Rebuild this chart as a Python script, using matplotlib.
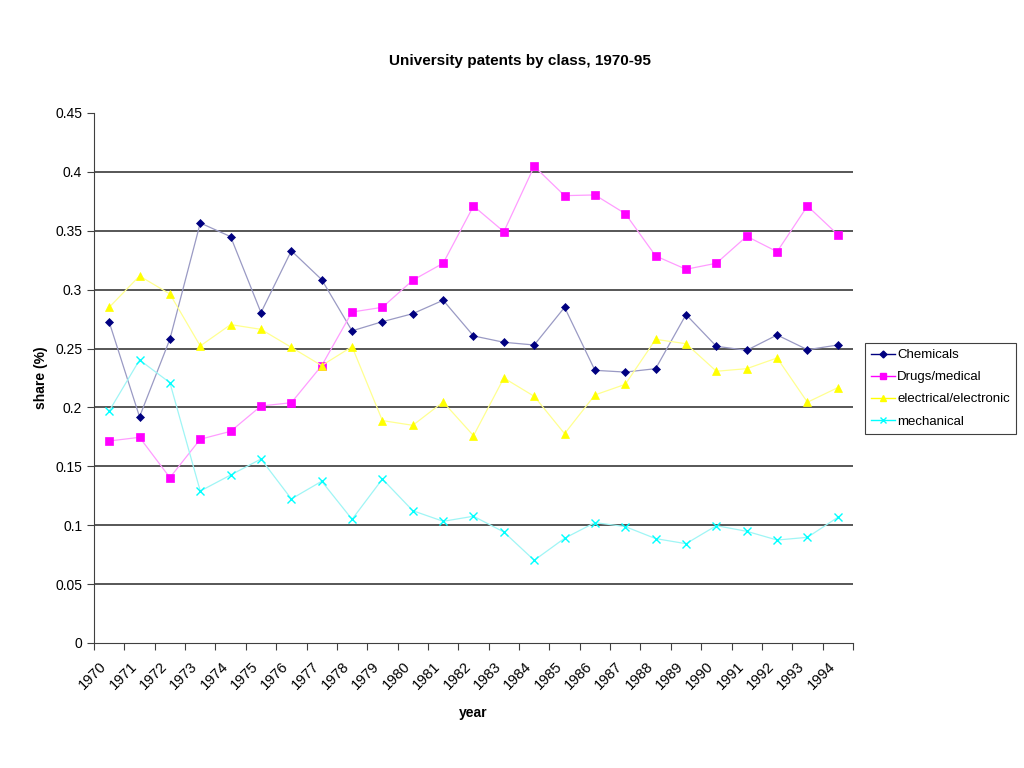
import numpy as np
import matplotlib
matplotlib.use('Agg')
import matplotlib.pyplot as plt
import matplotlib.transforms as mtransforms

years = [str(y) for y in range(1970, 1995)]

chemicals = [0.2725, 0.192, 0.258, 0.3566, 0.345, 0.2805, 0.333, 0.3085, 0.265, 0.2728,
             0.2796, 0.291, 0.2607, 0.2553, 0.253, 0.285, 0.2315, 0.230, 0.2329, 0.2788,
             0.2519, 0.2485, 0.2615, 0.249, 0.253]
drugs = [0.1715, 0.1746, 0.1404, 0.173, 0.1797, 0.2012, 0.204, 0.2355, 0.281, 0.285,
         0.308, 0.3224, 0.371, 0.3492, 0.4047, 0.3798, 0.3804, 0.3645, 0.3286, 0.3173,
         0.3224, 0.3453, 0.3322, 0.371, 0.3467]
electrical = [0.285, 0.3116, 0.2963, 0.2522, 0.2703, 0.2663, 0.251, 0.2355, 0.2516, 0.1888,
              0.1848, 0.2046, 0.176, 0.225, 0.2094, 0.1777, 0.2106, 0.2196, 0.2578, 0.2541,
              0.2307, 0.2329, 0.242, 0.2044, 0.2168]
mechanical = [0.197, 0.2403, 0.221, 0.129, 0.1426, 0.1562, 0.1223, 0.1373, 0.105, 0.1392,
              0.1123, 0.1033, 0.1076, 0.0942, 0.0702, 0.0889, 0.1022, 0.0988, 0.0886, 0.0843,
              0.0996, 0.0948, 0.0874, 0.0897, 0.1067]

plt.rcParams['font.family'] = ['Liberation Sans', 'DejaVu Sans']

fig = plt.figure(figsize=(10.24, 7.68), dpi=100)
ax = fig.add_axes([0.0918, 0.1628, 0.7412, 0.6901])

x = np.arange(len(years))

# series: (label, values, line colour, marker, marker colour, marker size)
series = [
    ('Chemicals', chemicals, '#9a9ac4', 'D', '#000080', 4.5),
    ('Drugs/medical', drugs, '#ff9cff', 's', '#ff00ff', 6),
    ('electrical/electronic', electrical, '#ffff90', '^', '#ffff00', 6),
    ('mechanical', mechanical, '#9ff5f5', 'x', '#00ffff', 6),
]
handles = []
for name, vals, lc, mk, mc, ms in series:
    ax.plot(x, vals, color=lc, lw=0.9, marker=mk, ms=ms,
            markerfacecolor=mc, markeredgecolor=mc, mew=1 if mk == 'x' else 0.5)
    h, = plt.plot([], [], color=mc, lw=1, marker=mk, ms=ms - 1,
                  markerfacecolor=mc, markeredgecolor=mc)
    handles.append(h)

ax.set_xlim(-0.5, len(years) - 0.5)
ax.set_ylim(0, 0.45)
yticks = np.arange(0, 0.451, 0.05)
ax.set_yticks(yticks)
ax.set_yticklabels(['0'] + ['%g' % round(v, 2) for v in yticks[1:]])
for v in yticks[1:-1]:
    ax.axhline(v, color='#3a3a3a', lw=1.2, zorder=0)

ax.set_xticks(np.arange(-0.5, len(years)))
ax.set_xticklabels([])
ax.set_xticks(x, minor=True)
ax.set_xticklabels(years, minor=True, rotation=45, ha='right', va='top', fontsize=10.5)
offset = mtransforms.ScaledTranslation(-6 / 100, -2 / 100, fig.dpi_scale_trans)
for lab in ax.xaxis.get_minorticklabels():
    lab.set_transform(lab.get_transform() + offset)
ax.tick_params(axis='x', which='minor', length=0, pad=12)
ax.tick_params(axis='x', which='major', length=5, color='#404040')
ax.tick_params(axis='y', length=5, color='#404040', labelsize=10)

for s in ['top', 'right']:
    ax.spines[s].set_visible(False)
for s in ['left', 'bottom']:
    ax.spines[s].set_color('#404040')

ax.set_xlabel('year', fontweight='bold', fontsize=10, labelpad=10)
ax.set_ylabel('share (%)', fontweight='bold', fontsize=10, labelpad=5)
fig.text(0.508, 0.921, 'University patents by class, 1970-95', ha='center', va='center',
         fontweight='bold', fontsize=11)

leg = fig.legend(handles, [s[0] for s in series], loc='upper left',
                 bbox_to_anchor=(865 / 1024, 1 - 343 / 768), fontsize=9.5,
                 fancybox=False, edgecolor='#404040', framealpha=1,
                 handlelength=1.8, handletextpad=0.2, borderaxespad=0,
                 labelspacing=0.75, borderpad=0.45)
leg.get_frame().set_linewidth(0.8)

fig.savefig('out.png', dpi=100)
